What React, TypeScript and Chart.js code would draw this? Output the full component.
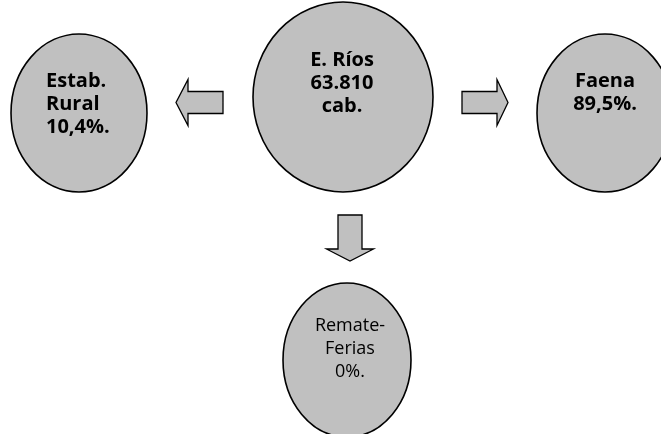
import React, { useEffect, useRef } from "react";
import { Chart, registerables } from "chart.js";

Chart.register(...registerables);

// ---- data ----
const NODE_NAMES = ["E. Ríos", "Estab. Rural", "Faena", "Remate-Ferias"];
const TOTAL_HEADS = 63810;
const DEST_NAMES = ["Estab. Rural", "Faena", "Remate-Ferias"];
const DEST_SHARES = [10.4, 89.5, 0];
const NODE_LINES = [
  ["E. Ríos", "63.810", "cab."],
  ["Estab.", "Rural", "10,4%."],
  ["Faena", "89,5%."],
  ["Remate-", "Ferias", "0%."],
];

// ---- layout (in a 661 x 434 coordinate space) ----
const NODE_X = [343, 79, 605, 347];
const NODE_Y = [97, 113, 113, 360];
const NODE_RX = [90, 68, 68, 64];
const NODE_RY = [95, 79, 79, 77];
const TEXT_X = [342, 46, 605, 350];
const TEXT_Y = [66, 87, 87, 331];
const TEXT_ALIGN: CanvasTextAlign[] = ["center", "left", "center", "center"];
const TEXT_BOLD = [true, true, true, false];
const TEXT_SIZE = [20, 20, 20, 18];
const LINE_GAP = 23;

// arrows: [tailX, tailY, tipX, tipY, headBase(from tip), shaftHalf, headHalf]
const ARROWS = [
  [223, 102.5, 176, 102.5, 12, 11, 23],
  [462, 102.5, 508, 102.5, 11, 11, 23],
  [350, 215, 350, 261, 12, 12, 23.5],
];

const FILL = "#c0c0c0";
const STROKE = "#000000";
const FONT = "'Open Sans', 'Noto Sans', sans-serif";

const diagramPlugin = {
  id: "diagram",
  afterDatasetsDraw(chart: any) {
    const ctx = chart.ctx as CanvasRenderingContext2D;
    const xs = chart.scales.x;
    const ys = chart.scales.y;
    const px = (v: number) => xs.getPixelForValue(v);
    const py = (v: number) => ys.getPixelForValue(v);
    const meta = chart.getDatasetMeta(0);
    ctx.save();
    ARROWS.forEach((a) => {
      const [tx, ty, hx, hy, hb, sh, hh] = a;
      const dx = hx - tx;
      const dy = hy - ty;
      const len = Math.hypot(dx, dy);
      const ux = dx / len;
      const uy = dy / len;
      const nx = -uy;
      const ny = ux;
      const bx = hx - ux * hb;
      const by = hy - uy * hb;
      const pts = [
        [tx + nx * sh, ty + ny * sh],
        [bx + nx * sh, by + ny * sh],
        [bx + nx * hh, by + ny * hh],
        [hx, hy],
        [bx - nx * hh, by - ny * hh],
        [bx - nx * sh, by - ny * sh],
        [tx - nx * sh, ty - ny * sh],
      ];
      ctx.beginPath();
      pts.forEach((p, i) => {
        if (i === 0) ctx.moveTo(px(p[0]), py(p[1]));
        else ctx.lineTo(px(p[0]), py(p[1]));
      });
      ctx.closePath();
      ctx.fillStyle = FILL;
      ctx.fill();
      ctx.lineWidth = 1.3;
      ctx.strokeStyle = STROKE;
      ctx.lineJoin = "miter";
      ctx.stroke();
    });
    meta.data.forEach((el: any, i: number) => {
      const rx = Math.abs(px(NODE_X[i] + NODE_RX[i]) - px(NODE_X[i]));
      const ry = Math.abs(py(NODE_Y[i] + NODE_RY[i]) - py(NODE_Y[i]));
      ctx.beginPath();
      ctx.ellipse(el.x, el.y, rx, ry, 0, 0, Math.PI * 2);
      ctx.fillStyle = FILL;
      ctx.fill();
      ctx.lineWidth = 1.6;
      ctx.strokeStyle = STROKE;
      ctx.stroke();
    });
    NODE_LINES.forEach((lines, i) => {
      ctx.font = `${TEXT_BOLD[i] ? "bold " : ""}${TEXT_SIZE[i]}px ${FONT}`;
      ctx.fillStyle = "#000";
      ctx.textAlign = TEXT_ALIGN[i];
      ctx.textBaseline = "alphabetic";
      lines.forEach((ln, j) => {
        ctx.fillText(ln, px(TEXT_X[i]), py(TEXT_Y[i] + j * LINE_GAP));
      });
    });
    ctx.restore();
  },
};

export default function App() {
  const ref = useRef<HTMLCanvasElement | null>(null);
  useEffect(() => {
    document.body.style.margin = "0";
    if (!ref.current) return;
    const chart = new Chart(ref.current, {
      type: "scatter",
      data: {
        datasets: [
          {
            label: `${NODE_NAMES[0]} ${TOTAL_HEADS} → ${DEST_NAMES.join(", ")} (${DEST_SHARES.join(", ")})`,
            data: NODE_X.map((x, i) => ({ x, y: NODE_Y[i] })),
            pointRadius: 0,
            pointHoverRadius: 0,
          },
        ],
      },
      options: {
        responsive: false,
        animation: false,
        events: [],
        layout: { padding: 0 },
        plugins: { legend: { display: false }, tooltip: { enabled: false } },
        scales: {
          x: { type: "linear", display: false, min: 0, max: 661 },
          y: { type: "linear", display: false, min: 0, max: 434, reverse: true },
        },
      },
      plugins: [diagramPlugin],
    });
    return () => chart.destroy();
  }, []);
  return (
    <div style={{ position: "fixed", left: 0, top: 0, width: 661, height: 434, background: "#fff" }}>
      <canvas ref={ref} width={661} height={434} style={{ display: "block" }} />
    </div>
  );
}
